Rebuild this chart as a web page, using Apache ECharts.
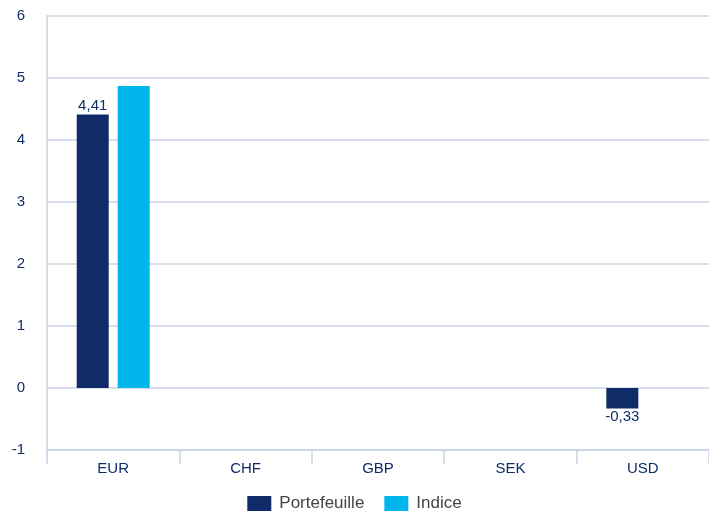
<!DOCTYPE html>
<html>
<head>
<meta charset="utf-8">
<script src="https://cdn.jsdelivr.net/npm/echarts@6/dist/echarts.min.js"></script>
<style>
  html, body { margin: 0; padding: 0; background: #fff; }
  #main { width: 709px; height: 511px; }
</style>
</head>
<body>
<div id="main"></div>
<script>
var categories = ['EUR', 'CHF', 'GBP', 'SEK', 'USD'];
var portefeuille = [4.41, null, null, null, -0.33];
var indice = [4.87, null, null, null, null];

var navy = '#0f2c68';
var cyan = '#00b6ec';
var gridColor = '#c8d3e6';

var chart = echarts.init(document.getElementById('main'));

function fmt(p) {
  return String(p.value).replace('.', ',');
}

// label au-dessus si positif, en dessous si negatif
var portData = portefeuille.map(function (v) {
  if (v === null) return null;
  return { value: v, label: { position: v < 0 ? 'bottom' : 'top' } };
});

var option = {
  animation: false,
  textStyle: { fontFamily: 'Liberation Sans, Arial, sans-serif' },
  grid: { left: 47, right: 0, top: 16, bottom: 61 },
  legend: {
    top: 495,
    padding: 0,
    icon: 'rect',
    itemWidth: 24,
    itemHeight: 15,
    itemGap: 20,
    textStyle: { fontSize: 17, color: '#444', padding: [0, 0, 0, 3] },
    data: ['Portefeuille', 'Indice']
  },
  xAxis: {
    type: 'category',
    data: categories,
    axisLine: { onZero: false, lineStyle: { color: gridColor, width: 1.5 } },
    axisTick: { show: true, length: 14, lineStyle: { color: gridColor, width: 1.5 } },
    axisLabel: { color: navy, fontSize: 15, margin: 11 }
  },
  yAxis: {
    type: 'value',
    min: -1,
    max: 6,
    interval: 1,
    axisLine: { show: true, lineStyle: { color: gridColor, width: 1.5 } },
    axisTick: { show: false },
    splitLine: { lineStyle: { color: gridColor, width: 1.5 } },
    axisLabel: { color: navy, fontSize: 15, margin: 22 }
  },
  series: [
    {
      name: 'Portefeuille',
      type: 'bar',
      data: portData,
      barWidth: 32,
      barGap: '28%',
      itemStyle: { color: navy },
      label: {
        show: true,
        formatter: fmt,
        color: navy,
        fontSize: 15,
        distance: 1
      }
    },
    {
      name: 'Indice',
      type: 'bar',
      data: indice,
      barWidth: 32,
      itemStyle: { color: cyan }
    }
  ]
};

chart.setOption(option);
</script>
</body>
</html>
